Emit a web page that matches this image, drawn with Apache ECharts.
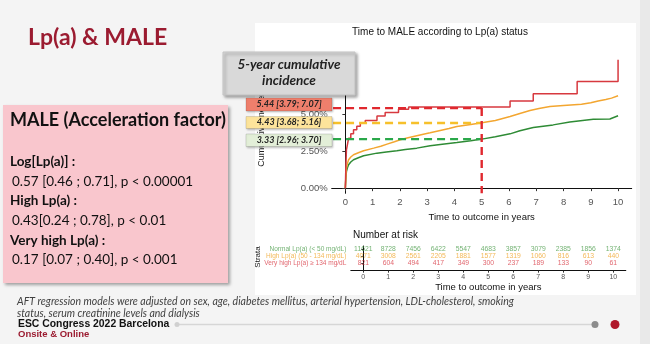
<!DOCTYPE html>
<html><head><meta charset="utf-8">
<script src="https://cdn.jsdelivr.net/npm/echarts@6/dist/echarts.min.js"></script>
<style>html,body{margin:0;padding:0;background:#f4f4f4}#c{width:650px;height:344px}</style>
</head><body><div id="c"></div>
<script>
// ---- data ----
const years = [0,1,2,3,4,5,6,7,8,9,10];
const yTicks = [0, 2.5, 5, 7.5];
const strata = ['Normal Lp(a) (< 50 mg/dL)', 'High Lp(a) (50 - 134 mg/dL)', 'Very high Lp(a) \u2265 134 mg/dL'];
const riskNormal = [11621, 8728, 7456, 6422, 5547, 4683, 3857, 3079, 2385, 1856, 1374];
const riskHigh = [4071, 3008, 2561, 2205, 1881, 1577, 1319, 1060, 816, 613, 440];
const riskVeryHigh = [821, 604, 494, 417, 349, 300, 237, 189, 133, 90, 61];
const redCurve = [[0,0],[0.02,1.5],[0.04,2.6],[0.08,3.0],[0.12,3.4],[0.2,3.7],[0.3,3.97],[0.42,4.2],[0.55,4.42],[0.73,4.6],[1.16,4.9],[1.46,5.14],[1.95,5.37],[2.32,5.52],[6.04,5.92],[6.89,6.41],[8.5,7.25],[10,8.73]];
const yellowCurve = [[0,0],[0.02,0.8],[0.04,1.36],[0.08,1.7],[0.12,1.93],[0.2,2.12],[0.3,2.27],[0.5,2.42],[0.67,2.54],[1.04,2.72],[1.3,2.85],[1.53,2.99],[1.8,3.15],[2.01,3.29],[2.3,3.42],[2.62,3.56],[2.9,3.68],[3.11,3.76],[3.48,3.92],[3.8,4.05],[4.09,4.19],[4.6,4.33],[5.06,4.46],[5.5,4.6],[6.04,4.87],[6.4,5.08],[6.77,5.28],[7.1,5.42],[7.5,5.55],[8.0,5.62],[8.66,5.7],[9.0,5.8],[9.27,5.92],[9.55,6.02],[9.76,6.12],[10,6.28]];
const greenCurve = [[0,0],[0.02,0.7],[0.04,1.13],[0.08,1.4],[0.12,1.59],[0.2,1.78],[0.3,1.93],[0.5,2.08],[0.67,2.2],[1.16,2.38],[1.5,2.46],[1.89,2.54],[2.2,2.62],[2.62,2.72],[3.11,2.88],[3.48,2.97],[4.09,3.1],[4.6,3.22],[5.06,3.35],[5.5,3.5],[6.04,3.69],[6.4,3.9],[6.89,4.12],[7.62,4.3],[8.23,4.5],[8.7,4.6],[9.09,4.68],[9.7,4.7],[10,4.92]];
const fiveYear = [5.44, 4.43, 3.33];
const fiveYearLabels = ['5.44 [3.79; 7.07]', '4.43 [3.68; 5.16]', '3.33 [2.96; 3.70]'];
const landmark = 5;

// ---- styling ----
const RED = '#d7393f', ORANGE = '#f3a630', GREEN = '#2e8b35';
const DRED = '#e0282e', DYEL = '#f6c02b', DGRN = '#2aa84a';
const sans = 'Liberation Sans, Arial, sans-serif';
const slide = 'Lato, Open Sans, sans-serif';

const rowColors = ['#4f9f4f', '#f0a830', '#d9404a'];
const rowPos = [3, 2, 1];
const riskRows = [riskNormal, riskHigh, riskVeryHigh];

const chart = echarts.init(document.getElementById('c'), null, {renderer: 'canvas'});

const riskSeries = riskRows.map((vals, k) => ({
  type: 'scatter', xAxisIndex: 1, yAxisIndex: 1, symbol: 'circle', symbolSize: 1,
  itemStyle: {color: 'rgba(0,0,0,0)'}, silent: true,
  label: {show: true, position: 'inside', formatter: p => String(p.value[2]), color: rowColors[k], fontSize: 6.8, lineHeight: 7, fontFamily: sans},
  labelLayout: {hideOverlap: false},
  data: years.map((y, i) => [y, rowPos[k], vals[i]])
}));

const strataSeries = {
  type: 'scatter', xAxisIndex: 1, yAxisIndex: 1, symbol: 'circle', symbolSize: 1,
  itemStyle: {color: 'rgba(0,0,0,0)'}, silent: true,
  labelLayout: {hideOverlap: false},
  label: {show: true, position: 'left', distance: 4, fontSize: 6.5, lineHeight: 7, fontFamily: sans,
    formatter: p => p.value[2]},
  data: strata.map((s, k) => ({value: [-0.5, rowPos[k], s], label: {color: rowColors[k]}}))
};

function dashed(data, color) {
  return {type: 'line', xAxisIndex: 0, yAxisIndex: 0, data, symbol: 'none', silent: true, z: 4,
    lineStyle: {color, width: 2.4, type: [8, 5]}};
}

const boxColors = ['#ef7f6c', '#fde49b', '#e3efd8'];
const boxY = [98, 116.5, 134];
const boxH = [13, 12, 12.5];

const graphics = [
  {type: 'rect', shape: {x: 255, y: 23, width: 381, height: 272}, style: {fill: '#ffffff'}, z: -10, silent: true},
  {type: 'rect', shape: {x: 640, y: 0, width: 10, height: 344}, style: {fill: '#e9e9e9'}, z: -10},
  {type: 'text', x: 28, y: 38, style: {text: 'Lp(a) & MALE', font: 'bold 23px ' + slide, fill: '#9b1b30', textVerticalAlign: 'middle'}},
  {type: 'text', x: 440, y: 32, style: {text: 'Time to MALE according to Lp(a) status', font: '10px ' + sans, fill: '#111', textAlign: 'center', textVerticalAlign: 'middle'}},
  {type: 'text', x: 262, y: 124, rotation: Math.PI / 2, style: {text: 'Cumulative incidence', font: '9px ' + sans, fill: '#222', textAlign: 'center', textVerticalAlign: 'middle'}},
  // pink box
  {type: 'rect', shape: {x: 3, y: 105, width: 225, height: 178}, z: 50,
    style: {fill: '#f9c6cd', shadowBlur: 3, shadowColor: 'rgba(0,0,0,0.35)', shadowOffsetX: 2, shadowOffsetY: 2}},
  ...[
    ['MALE (Acceleration factor)', 120, 'bold 18px', 10],
    ['Log[Lp(a)] :', 162, 'bold 13.5px', 10],
    ['0.57 [0.46 ; 0.71], p < 0.00001', 182, '13.5px', 12],
    ['High Lp(a) :', 201, 'bold 13.5px', 10],
    ['0.43[0.24 ; 0.78], p < 0.01', 221, '13.5px', 12],
    ['Very high Lp(a) :', 241, 'bold 13.5px', 10],
    ['0.17 [0.07 ; 0.40], p < 0.001', 260, '13.5px', 12]
  ].map(([t, y, f, x]) => ({type: 'text', x, y, z: 51, style: {text: t, font: f + ' ' + slide, fill: '#111', textVerticalAlign: 'middle'}})),
  // 5-year box
  {type: 'rect', shape: {x: 223, y: 52, width: 132, height: 43}, z: 60,
    style: {fill: '#d9d9d9', stroke: '#c4c4c4', lineWidth: 1, shadowBlur: 3, shadowColor: 'rgba(0,0,0,0.35)', shadowOffsetX: 2, shadowOffsetY: 2}},
  {type: 'text', x: 289, y: 65, z: 61, style: {text: '5-year cumulative', font: 'italic bold 13.5px ' + slide, fill: '#222', textAlign: 'center', textVerticalAlign: 'middle'}},
  {type: 'text', x: 289, y: 81, z: 61, style: {text: 'incidence', font: 'italic bold 13.5px ' + slide, fill: '#222', textAlign: 'center', textVerticalAlign: 'middle'}},
  ...fiveYearLabels.flatMap((t, i) => [
    {type: 'rect', shape: {x: 246, y: boxY[i], width: 86, height: boxH[i]}, z: 60,
      style: {fill: boxColors[i], stroke: 'rgba(0,0,0,0.15)', lineWidth: 0.8, shadowBlur: 2, shadowColor: 'rgba(0,0,0,0.25)', shadowOffsetX: 1, shadowOffsetY: 1}},
    {type: 'text', x: 289, y: boxY[i] + boxH[i] / 2, z: 61, style: {text: t, font: 'italic bold 9px ' + slide, fill: '#222', textAlign: 'center', textVerticalAlign: 'middle'}}
  ]),
  // risk table
  {type: 'text', x: 353, y: 235, style: {text: 'Number at risk', font: '10px ' + sans, fill: '#111', textVerticalAlign: 'middle'}},
  {type: 'text', x: 258, y: 257, rotation: Math.PI / 2, style: {text: 'Strata', font: '8px ' + sans, fill: '#111', textAlign: 'center', textVerticalAlign: 'middle'}},
  // footer
  {type: 'text', x: 17, y: 302, style: {text: 'AFT regression models were adjusted on sex, age, diabetes mellitus, arterial hypertension, LDL-cholesterol, smoking', font: 'italic 10.5px ' + slide, fill: '#404040', textVerticalAlign: 'middle'}},
  {type: 'text', x: 17, y: 313.5, style: {text: 'status, serum creatinine levels and dialysis', font: 'italic 10.5px ' + slide, fill: '#404040', textVerticalAlign: 'middle'}},
  {type: 'text', x: 18, y: 324.5, style: {text: 'ESC Congress 2022 Barcelona', font: 'bold 10.4px ' + sans, fill: '#111', textVerticalAlign: 'middle'}},
  {type: 'text', x: 18, y: 334.5, style: {text: 'Onsite & Online', font: 'bold 9.5px ' + sans, fill: '#9b1b30', textVerticalAlign: 'middle'}},
  {type: 'line', shape: {x1: 178, y1: 324.5, x2: 592, y2: 324.5}, style: {stroke: '#d6d6d6', lineWidth: 1.5}},
  {type: 'circle', shape: {cx: 177, cy: 324.5, r: 2.5}, style: {fill: '#d0d0d0'}},
  {type: 'circle', shape: {cx: 595, cy: 324.5, r: 3.5}, style: {fill: '#8c8c8c'}},
  {type: 'circle', shape: {cx: 615, cy: 324.5, r: 4.5}, style: {fill: '#b0182b'}}
];

const option = {
  animation: false,
  backgroundColor: '#f4f4f4',
  grid: [
    {left: 331.7, top: 55, width: 300, height: 138.3},
    {left: 350.8, top: 246, width: 275, height: 25}
  ],
  xAxis: [
    {type: 'value', gridIndex: 0, min: -0.5, max: 10.5,
      axisLine: {lineStyle: {color: '#111', width: 1}},
      axisTick: {customValues: years, length: 3, lineStyle: {color: '#333'}},
      axisLabel: {customValues: years, color: '#555', fontSize: 9.5, margin: 4, fontFamily: sans, hideOverlap: false},
      splitLine: {show: false},
      name: 'Time to outcome in years', nameLocation: 'middle', nameGap: 19,
      nameTextStyle: {color: '#111', fontSize: 9.5, fontFamily: sans}},
    {type: 'value', gridIndex: 1, min: -0.5, max: 10.5,
      axisLine: {lineStyle: {color: '#111', width: 1}},
      axisTick: {customValues: years, length: 2, lineStyle: {color: '#333'}},
      axisLabel: {customValues: years, color: '#555', fontSize: 7, margin: 3, fontFamily: sans, hideOverlap: false},
      splitLine: {show: false},
      name: 'Time to outcome in years', nameLocation: 'middle', nameGap: 11,
      nameTextStyle: {color: '#111', fontSize: 9.5, fontFamily: sans}}
  ],
  yAxis: [
    {type: 'value', gridIndex: 0, min: -0.35, max: 9.05,
      axisLine: {show: true, lineStyle: {color: '#111', width: 1}},
      axisTick: {show: true, customValues: yTicks, length: 3, lineStyle: {color: '#333'}},
      axisLabel: {customValues: yTicks, formatter: v => v.toFixed(2) + '%', color: '#555', fontSize: 9.5, margin: 4, fontFamily: sans, hideOverlap: false},
      splitLine: {show: false}},
    {type: 'value', gridIndex: 1, min: -0.05, max: 3.5,
      axisLine: {show: true, lineStyle: {color: '#111', width: 1}},
      axisTick: {show: true, customValues: rowPos, length: 2, lineStyle: {color: '#333'}},
      axisLabel: {show: false},
      splitLine: {show: false}}
  ],
  series: [
    {type: 'line', name: 'green', data: greenCurve, symbol: 'none', z: 3, lineStyle: {color: GREEN, width: 1.5}},
    {type: 'line', name: 'yellow', data: yellowCurve, symbol: 'none', z: 3, lineStyle: {color: ORANGE, width: 1.5}},
    {type: 'line', name: 'red', data: redCurve, step: 'end', symbol: 'none', z: 3, lineStyle: {color: RED, width: 1.5}},
    dashed([[-0.45, fiveYear[0]], [landmark, fiveYear[0]]], DRED),
    dashed([[-0.45, fiveYear[1]], [landmark, fiveYear[1]]], DYEL),
    dashed([[-0.45, fiveYear[2]], [landmark, fiveYear[2]]], DGRN),
    dashed([[landmark, fiveYear[0]], [landmark, -0.35]], DRED),
    ...riskSeries,
    strataSeries
  ],
  graphic: {elements: graphics}
};
chart.setOption(option);
</script></body></html>
